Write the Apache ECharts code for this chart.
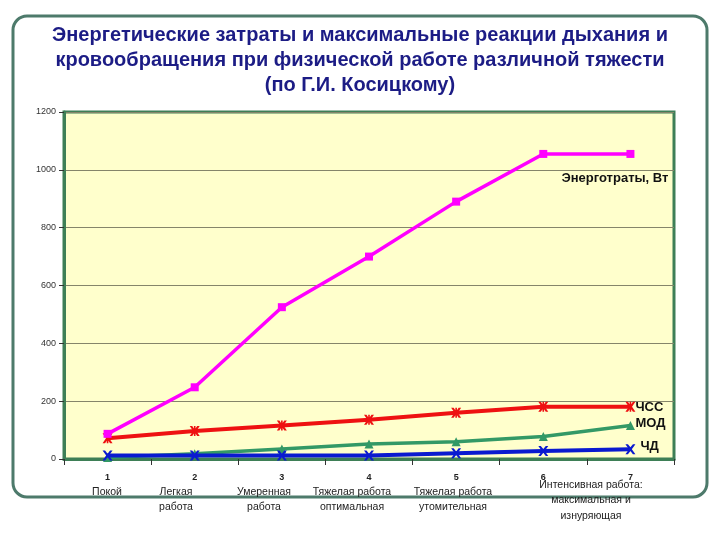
<!DOCTYPE html>
<html>
<head>
<meta charset="utf-8">
<script src="https://cdn.jsdelivr.net/npm/echarts@6/dist/echarts.min.js"></script>
<style>html,body{margin:0;padding:0;background:#fff;}#c{width:720px;height:540px;}</style>
</head>
<body>
<div id="c"></div>
<script>
var categories = ['1', '2', '3', '4', '5', '6', '7'];
var energy = [87, 248, 525, 700, 890, 1055, 1055];
var hr = [72, 97, 116, 136, 160, 181, 181];
var mod = [5, 18, 35, 52, 60, 78, 116];
var rr = [12, 12, 12, 12, 20, 28, 34];
var yTicks = [0, 200, 400, 600, 800, 1000, 1200];
var seriesNames = ['Энерготраты, Вт', 'ЧСС', 'МОД', 'ЧД'];
var workLabels = ['Покой', 'Легкая\nработа', 'Умеренная\nработа', 'Тяжелая работа\nоптимальная', 'Тяжелая работа\nутомительная', 'Интенсивная работа:\nмаксимальная и\nизнуряющая'];
var titleText = 'Энергетические затраты и максимальные реакции дыхания и\nкровообращения при физической работе различной тяжести\n(по Г.И. Косицкому)';

var FONT = '"Liberation Sans", Arial, sans-serif';
var xSym = 'path://M0,0 L2.5,0 L5,3.2 L7.5,0 L10,0 L6.4,5 L10,10 L7.5,10 L5,6.8 L2.5,10 L0,10 L3.6,5 Z';
var astSym = 'path://M0,0 L2.5,0 L4.2,2.5 L4.2,0 L5.8,0 L5.8,2.5 L7.5,0 L10,0 L6.6,5 L10,10 L7.5,10 L5.8,7.5 L5.8,10 L4.2,10 L4.2,7.5 L2.5,10 L0,10 L3.4,5 Z';

var labelPos = [[107, 484], [176, 484], [264, 484], [352, 484], [453, 484], [591, 477]];

var chart = echarts.init(document.getElementById('c'));
var graphics = [{
  type: 'rect', z: -1, silent: true,
  shape: {x: 13, y: 16, width: 694, height: 481, r: 14},
  style: {fill: 'none', stroke: '#4d7a6b', lineWidth: 3}
}, {
  type: 'text', x: 360, y: 23,
  style: {text: titleText, font: 'bold 20px ' + FONT, fill: '#1c1c85', textAlign: 'center', textVerticalAlign: 'top', lineHeight: 25}
}];
workLabels.forEach(function (t, i) {
  graphics.push({
    type: 'text', x: labelPos[i][0], y: labelPos[i][1],
    style: {text: t, font: '10.5px ' + FONT, fill: '#222', textAlign: 'center', textVerticalAlign: 'top', lineHeight: 15.5}
  });
});

function endLab(name, off, align) {
  return {show: true, formatter: name, color: '#111', fontFamily: FONT, fontWeight: 'bold', fontSize: 13, offset: off, align: align || 'left', distance: 0};
}

chart.setOption({
  animation: false,
  backgroundColor: '#fff',
  graphic: graphics,
  grid: {left: 64, right: 46, top: 112, bottom: 81, show: true, backgroundColor: '#FFFFCC', borderColor: '#3e7f56', borderWidth: 3},
  xAxis: {
    type: 'category', data: categories, boundaryGap: true,
    axisLine: {show: true, lineStyle: {color: '#3e7f56', width: 3}},
    axisTick: {show: true, length: 6, lineStyle: {color: '#333', width: 1}},
    axisLabel: {color: '#222', fontFamily: FONT, fontSize: 9, fontWeight: 'bold', margin: 14}
  },
  yAxis: {
    type: 'value', min: yTicks[0], max: yTicks[yTicks.length - 1], interval: 200,
    axisLine: {show: true, lineStyle: {color: '#3e7f56', width: 3}},
    axisTick: {show: true, length: 5, lineStyle: {color: '#333'}},
    axisLabel: {color: '#333', fontFamily: FONT, fontSize: 9, margin: 8, formatter: function (v) { return String(v); }},
    splitLine: {show: true, lineStyle: {color: '#85856a', width: 1}}
  },
  series: [
    {name: seriesNames[0], type: 'line', data: energy, symbol: 'rect', symbolSize: 8,
     lineStyle: {color: '#FF00FF', width: 3.5}, itemStyle: {color: '#FF00FF'},
     endLabel: endLab(seriesNames[0], [38, 24], 'right'), z: 5},
    {name: seriesNames[1], type: 'line', data: hr, symbol: astSym, symbolSize: 10,
     lineStyle: {color: '#EE1111', width: 4}, itemStyle: {color: '#EE1111'},
     endLabel: endLab(seriesNames[1], [5, 1]), z: 4},
    {name: seriesNames[2], type: 'line', data: mod, symbol: 'triangle', symbolSize: 9,
     lineStyle: {color: '#339966', width: 3.5}, itemStyle: {color: '#339966'},
     endLabel: endLab(seriesNames[2], [5, -2]), z: 3},
    {name: seriesNames[3], type: 'line', data: rr, symbol: xSym, symbolSize: 10,
     lineStyle: {color: '#0a1ad0', width: 4}, itemStyle: {color: '#0a1ad0'},
     endLabel: endLab(seriesNames[3], [10, -3]), z: 6}
  ]
});
</script>
</body>
</html>
